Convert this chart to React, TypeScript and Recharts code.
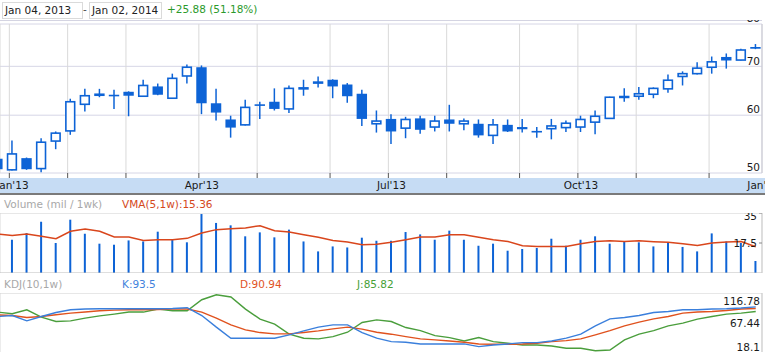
import React from "react";
import { Bar, CartesianGrid, ComposedChart, Line, ReferenceLine, XAxis, YAxis } from "recharts";

const W = 765;
const H = 352;
const FONT = "'DejaVu Sans', Verdana, sans-serif";
const BLUE = "#0d63d6";

// weekly bars, index 0 = w/e Dec 28 2012 ... index 52 = w/e Dec 27 2013
const open = [52.3, 50.5, 52.4, 50.7, 55.3, 57.1, 62.1, 63.9, 64.0, 64.6, 63.7, 65.7, 63.3, 67.9, 69.8, 62.3, 59.2, 58.2, 62.1, 62.6, 61.2, 65.2, 66.4, 67.1, 66.1, 64.2, 58.4, 59.3, 57.6, 59.4, 57.8, 59.2, 58.4, 58.4, 56.3, 58.2, 57.8, 57.1, 57.5, 57.7, 57.8, 58.7, 59.4, 63.8, 63.7, 64.1, 65.2, 67.8, 68.4, 69.8, 72.1, 71.4, 74.4];
const high = [52.7, 55.4, 52.5, 55.8, 57.0, 63.2, 65.2, 65.2, 65.0, 64.7, 67.1, 66.3, 68.4, 70.4, 70.2, 65.2, 59.9, 63.0, 62.6, 65.3, 65.9, 67.1, 67.8, 67.2, 66.4, 65.0, 60.9, 60.2, 59.7, 59.9, 59.9, 62.0, 59.4, 59.2, 59.3, 59.2, 59.3, 57.8, 59.3, 59.0, 59.9, 60.9, 63.6, 65.3, 65.6, 65.5, 68.2, 68.9, 70.9, 72.2, 72.9, 74.0, 75.1];
const low = [50.5, 50.4, 50.5, 50.1, 53.9, 56.4, 60.7, 63.5, 61.2, 59.8, 63.6, 63.9, 63.2, 66.3, 60.2, 59.0, 55.9, 58.1, 59.3, 60.9, 60.4, 63.8, 65.5, 63.3, 62.4, 58.0, 56.8, 54.8, 55.8, 56.6, 57.0, 57.0, 57.2, 55.9, 54.8, 56.9, 56.8, 55.9, 55.6, 56.9, 56.9, 56.5, 59.3, 62.6, 63.0, 63.3, 64.4, 65.9, 68.2, 68.4, 69.5, 71.3, 73.9];
const close = [50.6, 53.1, 50.6, 55.1, 56.7, 62.6, 63.8, 64.1, 63.9, 63.8, 65.9, 64.0, 67.4, 69.8, 62.3, 60.5, 57.7, 61.5, 61.9, 61.2, 65.3, 65.4, 66.6, 65.7, 63.7, 59.3, 58.9, 57.0, 59.2, 57.3, 58.9, 58.4, 58.9, 56.3, 58.2, 57.0, 57.4, 56.9, 58.0, 58.5, 59.2, 59.8, 63.5, 63.3, 64.2, 65.3, 67.0, 68.4, 69.6, 71.0, 71.3, 73.7, 74.0];

// volume, millions per week, and its 5-week average
const volume = [9.7, 19.4, 23.3, 29.9, 17.5, 31.1, 22.9, 17.1, 16.5, 19.0, 18.4, 24.1, 19.4, 17.9, 34.4, 29.2, 27.8, 21.4, 23.7, 20.8, 25.3, 18.4, 12.6, 15.5, 14.9, 20.6, 18.8, 18.8, 23.9, 22.5, 19.4, 24.7, 19.4, 15.9, 17.1, 13.0, 14.0, 14.6, 20.0, 15.9, 19.4, 21.4, 17.1, 18.4, 17.9, 15.5, 17.9, 15.2, 12.6, 23.1, 18.4, 17.5, 7.0];
const vma = [22.8, 21.9, 22.8, 21.4, 20.0, 24.3, 25.7, 24.3, 21.0, 21.0, 19.0, 19.4, 19.4, 20.2, 23.3, 25.3, 25.8, 26.3, 27.6, 24.7, 23.9, 22.3, 20.8, 19.0, 18.1, 16.5, 16.8, 17.9, 19.4, 21.0, 21.0, 22.3, 22.3, 20.8, 19.4, 18.4, 15.9, 15.5, 15.5, 15.5, 17.1, 18.4, 18.8, 18.4, 18.8, 18.3, 17.9, 17.1, 16.1, 17.5, 18.1, 18.4, 15.36];

// KDJ(10,1w)
const kLine = [77.5, 79.1, 70.2, 77.5, 84.2, 88.7, 89.9, 90.4, 90.4, 90.4, 90.4, 90.4, 90.9, 92.1, 79.1, 59.7, 41.2, 41.2, 41.2, 41.2, 46.7, 53.4, 59.7, 63.5, 63.5, 50.6, 41.2, 35.4, 34.4, 31.6, 31.6, 31.6, 31.6, 27.1, 29.9, 31.6, 33.8, 33.8, 36.6, 41.2, 47.9, 61.8, 73.6, 75.8, 79.1, 84.2, 85.9, 88.7, 88.7, 89.9, 90.4, 91.6, 93.5];
const dLine = [80.3, 79.1, 75.8, 77.5, 80.3, 83.2, 84.9, 87.0, 88.2, 88.7, 88.7, 89.2, 89.9, 89.9, 84.9, 74.8, 63.5, 55.1, 50.6, 48.4, 48.4, 50.6, 53.4, 56.8, 59.7, 56.3, 51.2, 47.9, 43.9, 40.0, 38.3, 36.6, 34.4, 31.6, 31.1, 31.1, 31.6, 32.8, 35.4, 37.1, 40.0, 46.7, 53.9, 61.8, 68.1, 73.6, 77.5, 83.2, 84.9, 85.9, 87.5, 89.9, 90.94];
const jLine = [84.9, 82.0, 88.7, 76.4, 69.1, 70.2, 74.8, 78.6, 81.5, 84.9, 84.9, 89.9, 87.0, 87.0, 105.5, 113.9, 110.1, 89.9, 73.1, 64.7, 47.9, 41.2, 40.0, 43.9, 51.2, 67.4, 71.9, 69.1, 59.0, 53.9, 45.5, 42.2, 36.6, 42.2, 35.4, 32.8, 29.9, 29.9, 28.2, 24.4, 24.4, 20.3, 21.5, 38.3, 47.9, 53.9, 61.8, 66.4, 73.1, 77.5, 81.5, 83.2, 85.82];

// first weekly bar of each month, and its label
const monthFirstWeek = [1, 5, 9, 14, 18, 23, 27, 31, 36, 40, 44, 49, 53];
const monthLabels = ["Jan'13", "", "", "Apr'13", "", "", "Jul'13", "", "", "Oct'13", "", "", "Jan'14"];
const priceTicks = [50, 60, 70, 80];
const volumeTicks = [17.5, 35];
const kdjTicks = [18.1, 67.44, 116.78];

const rows = open.map((o, i) => ({
  i,
  open: o,
  high: high[i],
  low: low[i],
  close: close[i],
  volume: volume[i],
  vma: vma[i],
  k: kLine[i],
  d: dLine[i],
  j: jLine[i],
}));

// month boundary sits a little before the first bar of the month
const gridWeeks = monthFirstWeek.map((w) => w - 0.2);
// visible window in week units; first bar half cut off on the left
const X_DOMAIN: [number, number] = [0.16, 52.43];
const MARGIN = { top: 0, right: 3, bottom: 0, left: 0 };

function Candle(props: any) {
  const { x, y, width, height, payload } = props;
  if (x == null || !payload) return null;
  const cx = x + width / 2;
  const { open: o, close: c, high: hi, low: lo } = payload;
  const span = Math.log(hi) - Math.log(lo);
  const at = (p: number) => y + (span > 0 ? ((Math.log(hi) - Math.log(p)) / span) * height : 0);
  const top = at(Math.max(o, c));
  const bot = at(Math.min(o, c));
  const up = c >= o;
  return (
    <g>
      <line x1={cx} x2={cx} y1={y} y2={y + height} stroke={BLUE} strokeWidth={1.5} />
      {up ? (
        <rect x={cx - 4.4} y={top} width={8.8} height={Math.max(bot - top, 0.5)} fill="#fff" stroke={BLUE} strokeWidth={1.6} />
      ) : (
        <rect x={cx - 5.2} y={top} width={10.4} height={Math.max(bot - top, 1.6)} fill={BLUE} />
      )}
    </g>
  );
}

function MonthTick({ x, y, index }: any) {
  const label = monthLabels[index];
  if (!label) return null;
  return (
    <text x={Math.min(x + 3, W - 1.5)} y={y} dy="0.71em" textAnchor="middle" fontSize={10.5} fontFamily={FONT} fill="#1a1a1a">
      {label}
    </text>
  );
}

function RightTick({ x, y, payload, index, dys }: any) {
  return (
    <text x={x} y={y + dys[index]} textAnchor="end" fontSize={10.5} fontFamily={FONT} fill="#1a1a1a">
      {payload.value}
    </text>
  );
}

const abs = (left: number, top: number, extra: React.CSSProperties = {}): React.CSSProperties => ({
  position: "absolute",
  left,
  top,
  ...extra,
});

const box: React.CSSProperties = {
  boxSizing: "border-box",
  height: 17,
  border: "1px solid #dadada",
  fontSize: 10.5,
  lineHeight: "15px",
  paddingLeft: 2,
  color: "#222",
  whiteSpace: "nowrap",
};

const title: React.CSSProperties = { fontSize: 10.5, lineHeight: "13px", whiteSpace: "nowrap" };

export default function App() {
  return (
    <div style={{ position: "absolute", left: 0, top: 0, width: W, height: H, overflow: "hidden", background: "#fff", fontFamily: FONT }}>
      <div style={abs(2, 1.5, { ...box, width: 81 })}>Jan 04, 2013</div>
      <div style={abs(83, 2, { ...title, fontSize: 10.5, color: "#444", lineHeight: "15px" })}>-</div>
      <div style={abs(89, 1.5, { ...box, width: 73 })}>Jan 02, 2014</div>
      <div style={abs(167, 2, { ...title, color: "#2b9a2b", lineHeight: "15px" })}>+25.88 (51.18%)</div>

      <div style={abs(0, 20, { width: 762, height: 1, background: "#d4d4e2" })} />
      <div style={abs(0, 178, { width: W, height: 15, background: "#c6dcf4" })} />
      <div style={abs(0, 193, { width: W, height: 2, background: "#7a7a7a" })} />

      <div style={abs(0, 20)}>
        <ComposedChart width={W} height={173} data={rows} margin={{ ...MARGIN, top: 4 }}>
          <CartesianGrid vertical={false} stroke="#d6d6e6" />
          <CartesianGrid horizontal={false} stroke="#d9d9d9" />
          <XAxis
            type="number"
            dataKey="i"
            domain={X_DOMAIN}
            allowDataOverflow
            ticks={gridWeeks}
            interval={0}
            height={20}
            axisLine={false}
            tickLine={{ stroke: "#555" }}
            tickSize={5}
            tickMargin={4}
            tick={(p: any) => <MonthTick {...p} />}
          />
          <YAxis
            orientation="right"
            mirror
            scale="log"
            domain={[50, 80]}
            allowDataOverflow
            ticks={priceTicks}
            interval={0}
            axisLine={{ stroke: "#c9c9d6" }}
            tickLine={false}
            tickSize={0}
            tickMargin={2}
            tick={(p: any) => <RightTick {...p} dys={[-1.8, -1.8, -1.8, -1.8]} />}
          />
          <Bar dataKey={(d: any) => [d.low, d.high]} barSize={10} shape={(p: any) => <Candle {...p} />} isAnimationActive={false} />
        </ComposedChart>
      </div>

      <div style={abs(4, 197.5, { ...title, color: "#a8a8a8" })}>Volume (mil / 1wk)</div>
      <div style={abs(122, 197.5, { ...title, color: "#d4481c" })}>VMA(5,1w):15.36</div>

      <div style={abs(0, 213)}>
        <ComposedChart width={W} height={60} data={rows} margin={MARGIN}>
          <CartesianGrid horizontal={false} stroke="#d9d9d9" />
          <XAxis
            type="number"
            dataKey="i"
            domain={X_DOMAIN}
            allowDataOverflow
            ticks={gridWeeks}
            interval={0}
            orientation="top"
            mirror
            axisLine={{ stroke: "#cfcfcf" }}
            tickLine={{ stroke: "#666" }}
            tickSize={5}
            tick={false}
          />
          <YAxis
            orientation="right"
            mirror
            domain={[0, 35]}
            allowDataOverflow
            ticks={volumeTicks}
            interval={0}
            axisLine={{ stroke: "#cfcfcf" }}
            tickLine={{ stroke: "#888" }}
            tickSize={3}
            tickMargin={2}
            tick={(p: any) => <RightTick {...p} dys={[3.5, 7]} />}
          />
          <ReferenceLine y={0} stroke="#bdbdbd" />
          <Bar dataKey="volume" barSize={2} fill={BLUE} isAnimationActive={false} />
          <Line type="linear" dataKey="vma" stroke="#d9461c" strokeWidth={1.5} dot={false} isAnimationActive={false} />
        </ComposedChart>
      </div>

      <div style={abs(4, 278, { ...title, color: "#a8a8a8" })}>KDJ(10,1w)</div>
      <div style={abs(122, 278, { ...title, color: "#3f82dc" })}>K:93.5</div>
      <div style={abs(240, 278, { ...title, color: "#e0531f" })}>D:90.94</div>
      <div style={abs(357, 278, { ...title, color: "#46a036" })}>J:85.82</div>

      <div style={abs(0, 293)}>
        <ComposedChart width={W} height={59} data={rows} margin={MARGIN}>
          <CartesianGrid horizontal={false} stroke="#d9d9d9" />
          <XAxis
            type="number"
            dataKey="i"
            domain={X_DOMAIN}
            allowDataOverflow
            ticks={gridWeeks}
            interval={0}
            orientation="top"
            mirror
            axisLine={{ stroke: "#cfcfcf" }}
            tickLine={{ stroke: "#666" }}
            tickSize={5}
            tick={false}
          />
          <YAxis
            orientation="right"
            mirror
            domain={[18.1, 116.78]}
            allowDataOverflow
            ticks={kdjTicks}
            interval={0}
            axisLine={{ stroke: "#cfcfcf" }}
            tickLine={false}
            tickSize={0}
            tickMargin={2}
            tick={(p: any) => <RightTick {...p} dys={[-1.3, 4, 11.7]} />}
          />
          <Line type="linear" dataKey="j" stroke="#4a9e3c" strokeWidth={1.4} dot={false} isAnimationActive={false} />
          <Line type="linear" dataKey="d" stroke="#e0521e" strokeWidth={1.4} dot={false} isAnimationActive={false} />
          <Line type="linear" dataKey="k" stroke="#3a7fdc" strokeWidth={1.4} dot={false} isAnimationActive={false} />
        </ComposedChart>
      </div>
    </div>
  );
}
